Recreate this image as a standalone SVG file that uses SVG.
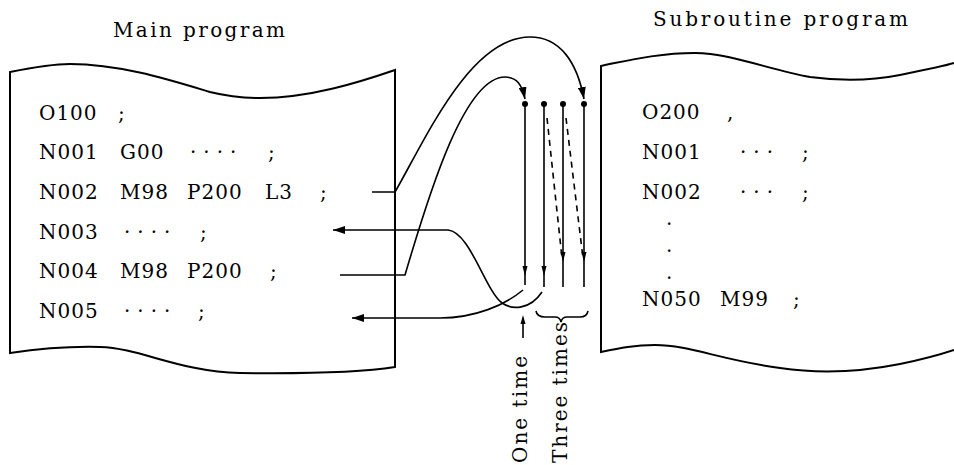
<svg xmlns="http://www.w3.org/2000/svg" width="954" height="465" viewBox="0 0 954 465">
<defs>
<style>
.box{fill:none;stroke:#000;stroke-width:2}
.ln{fill:none;stroke:#000;stroke-width:1.6}
.dash{fill:none;stroke:#000;stroke-width:1.6;stroke-dasharray:6 5}
.code{font-family:"DejaVu Serif","Liberation Serif",serif;font-size:20px;letter-spacing:1px;fill:#000}
.dots{letter-spacing:7px}
.title{font-family:"DejaVu Serif","Liberation Serif",serif;font-size:20px;fill:#000}
.dot{fill:#000}
.head{fill:#000}
</style>
<marker id="arr" viewBox="0 0 12 8" refX="12" refY="4" markerWidth="12" markerHeight="8" markerUnits="userSpaceOnUse" orient="auto">
<path d="M0,0 L12,4 L0,8 Z" fill="#000"/>
</marker>
</defs>
<rect width="954" height="465" fill="#fff"/>

<g id="main-title"><text class="title" x="113" y="37" textLength="172" lengthAdjust="spacing">Main program</text></g>
<g id="sub-title"><text class="title" x="653" y="26" textLength="255" lengthAdjust="spacing">Subroutine program</text></g>

<g id="main-program">
<path class="box" d="M10,72 C30,68 50,64 70,64 C120,64 170,80 210,92 C230,97 245,98 260,98 C310,98 360,82 395,70 L395,367 C370,371 320,374 240,373 C180,372 140,348 100,347 C60,346 30,350 10,353 Z"/>
<text class="code" y="120"><tspan x="39">O100</tspan><tspan x="118">;</tspan></text>
<text class="code" y="159"><tspan x="39">N001</tspan><tspan x="120">G00</tspan><tspan x="190" class="dots">····</tspan><tspan x="268">;</tspan></text>
<text class="code" y="199"><tspan x="39">N002</tspan><tspan x="120">M98</tspan><tspan x="187">P200</tspan><tspan x="265">L3</tspan><tspan x="320">;</tspan></text>
<text class="code" y="239"><tspan x="39">N003</tspan><tspan x="124" class="dots">····</tspan><tspan x="200">;</tspan></text>
<text class="code" y="278"><tspan x="39">N004</tspan><tspan x="120">M98</tspan><tspan x="187">P200</tspan><tspan x="270">;</tspan></text>
<text class="code" y="318"><tspan x="39">N005</tspan><tspan x="124" class="dots">····</tspan><tspan x="198">;</tspan></text>
</g>

<g id="subroutine-program">
<path class="box" d="M954,63 C945,66 925,70 900,75 C870,81 840,81 810,77 C770,70 730,53 695,53 C660,53 630,60 605,65 L601,66 L601,352 C620,348 635,345 655,345 C690,345 720,360 780,368 C820,374 860,372 900,364 C930,358 945,353 954,350"/>
<text class="code" y="119"><tspan x="642">O200</tspan><tspan x="727">,</tspan></text>
<text class="code" y="159"><tspan x="642">N001</tspan><tspan x="740" class="dots">···</tspan><tspan x="802">;</tspan></text>
<text class="code" y="199"><tspan x="642">N002</tspan><tspan x="740" class="dots">···</tspan><tspan x="802">;</tspan></text>
<text class="code" x="666" y="225">.</text>
<text class="code" x="666" y="252">.</text>
<text class="code" x="666" y="279">.</text>
<text class="code" y="306"><tspan x="642">N050</tspan><tspan x="720">M99</tspan><tspan x="793">;</tspan></text>
</g>

<g id="connectors">
<path class="ln" d="M372,192 L395,192 C425,140 470,37 530,37 C560,37 577,62 584,99" marker-end="url(#arr)"/>
<path class="ln" d="M340,275 L405,275 C430,190 465,77 505,77 C517,77 522,85 525,99" marker-end="url(#arr)"/>
<path class="ln" d="M525,104 L525,285"/>
<path class="ln" d="M544,104 L544,287"/>
<path class="ln" d="M563,104 L563,287"/>
<path class="ln" d="M584,104 L584,287"/>
<circle class="dot" cx="525" cy="104" r="3"/>
<circle class="dot" cx="544" cy="104" r="3"/>
<circle class="dot" cx="563" cy="104" r="3"/>
<circle class="dot" cx="584" cy="104" r="3"/>
<path class="head" d="M522.5,266 L527.5,266 L525,276 Z"/>
<path class="head" d="M541.5,266 L546.5,266 L544,276 Z"/>
<path class="head" d="M560.5,252 L565.5,252 L563,262 Z"/>
<path class="head" d="M581.5,252 L586.5,252 L584,262 Z"/>
<path class="dash" d="M547,118 L562,258"/>
<path class="dash" d="M566,118 L583,258"/>
<path class="ln" d="M542,292 C530,310 512,310 502,303 C485,290 470,232 448,230 L333,230" marker-end="url(#arr)"/>
<path class="ln" d="M523,290 C505,305 475,318 440,318 L352,318" marker-end="url(#arr)"/>
<path class="ln" d="M536,311 Q537,317 545,317 L555,317 Q560,317 561,322 Q562,317 567,317 L580,317 Q587,317 588,311"/>
<path class="ln" d="M523,338 L523,318"/>
<path class="head" d="M520.5,324 L525.5,324 L523,315 Z"/>
</g>

<g id="labels">
<text class="title" transform="translate(527,463) rotate(-90)" x="0" y="0" textLength="107" lengthAdjust="spacing">One time</text>
<text class="title" transform="translate(567,463) rotate(-90)" x="0" y="0" textLength="141" lengthAdjust="spacing">Three times</text>
</g>
</svg>
